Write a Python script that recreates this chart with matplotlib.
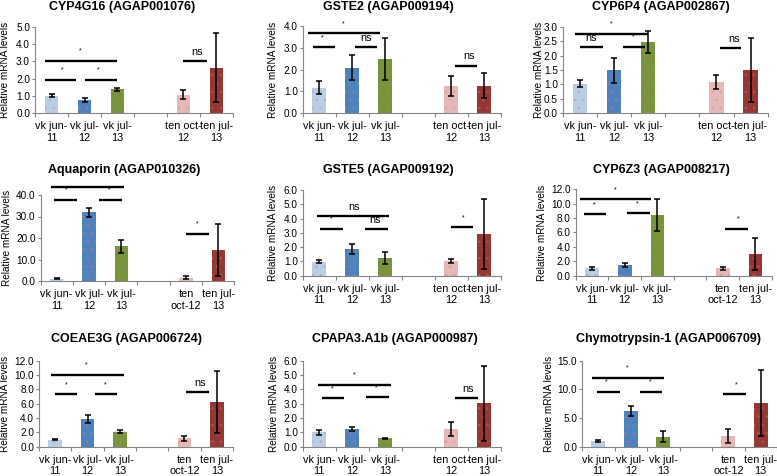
import numpy as np
import matplotlib
matplotlib.use("Agg")
import matplotlib.pyplot as plt
from matplotlib.colors import to_rgb

plt.rcParams['font.family'] = ['Liberation Sans', 'DejaVu Sans']
plt.rcParams['hatch.linewidth'] = 0.5

# ---------------- data ----------------
titles = ["CYP4G16 (AGAP001076)", "GSTE2 (AGAP009194)", "CYP6P4 (AGAP002867)",
          "Aquaporin (AGAP010326)", "GSTE5 (AGAP009192)", "CYP6Z3 (AGAP008217)",
          "COEAE3G (AGAP006724)", "CPAPA3.A1b (AGAP000987)", "Chymotrypsin-1 (AGAP006709)"]

labels_a = ["vk jun-\n11", "vk jul-\n12", "vk jul-\n13", "", "ten oct-\n12", "ten jul-\n13"]
labels_b = ["vk jun-\n11", "vk jul-\n12", "vk jul-\n13", "", "ten\noct-12", "ten jul-\n13"]
panel_labels = [labels_a, labels_a, labels_a, labels_b, labels_a, labels_b, labels_b, labels_a, labels_b]

y_max = [5.0, 4.0, 3.0, 40.0, 6.0, 12.0, 12.0, 6.0, 15.0]
y_step = [1.0, 1.0, 0.5, 10.0, 1.0, 2.0, 2.0, 1.0, 5.0]

nan = np.nan
cyp4g16 = [1.0, 0.75, 1.38, nan, 1.07, 2.63]
cyp4g16_err = [0.09, 0.10, 0.10, nan, 0.28, 2.0]
gste2 = [1.17, 2.09, 2.48, nan, 1.23, 1.26]
gste2_err = [0.31, 0.59, 0.95, nan, 0.46, 0.56]
cyp6p4 = [1.02, 1.49, 2.48, nan, 1.08, 1.50]
cyp6p4_err = [0.13, 0.44, 0.37, nan, 0.25, 1.13]
aquaporin = [1.0, 31.9, 16.1, nan, 1.55, 14.6]
aquaporin_err = [0.3, 2.2, 3.1, nan, 0.8, 12.1]
gste5 = [0.98, 1.87, 1.21, nan, 1.03, 2.92]
gste5_err = [0.10, 0.32, 0.42, nan, 0.15, 2.43]
cyp6z3 = [1.02, 1.48, 8.4, nan, 1.02, 3.06]
cyp6z3_err = [0.23, 0.22, 2.2, nan, 0.20, 2.2]
coeae3g = [1.0, 3.86, 2.09, nan, 1.16, 6.2]
coeae3g_err = [0.12, 0.55, 0.20, nan, 0.40, 4.3]
cpapa3 = [1.0, 1.26, 0.60, nan, 1.23, 3.02]
cpapa3_err = [0.15, 0.13, 0.04, nan, 0.47, 2.6]
chymo = [0.99, 6.22, 1.74, nan, 1.86, 7.6]
chymo_err = [0.2, 0.8, 0.95, nan, 1.2, 5.8]

values = [cyp4g16, gste2, cyp6p4, aquaporin, gste5, cyp6z3, coeae3g, cpapa3, chymo]
errors = [cyp4g16_err, gste2_err, cyp6p4_err, aquaporin_err, gste5_err, cyp6z3_err,
          coeae3g_err, cpapa3_err, chymo_err]

# significance brackets: (x start, x end, y, label, label x)
sig = [
    [(-0.20, 1.99, 3.02, '*', 0.88), (-0.20, 0.74, 1.94, '*', 0.34),
     (1.01, 1.99, 1.94, '*', 1.42), (3.99, 4.70, 3.02, 'ns', 4.40)],
    [(-0.35, 1.84, 3.66, '*', 0.73), (-0.20, 0.48, 3.02, '*', 0.08),
     (1.09, 1.76, 3.02, 'ns', 1.42), (4.12, 4.79, 2.18, 'ns', 4.55)],
    [(-0.13, 1.99, 2.76, '*', 0.92), (0.02, 0.68, 2.30, 'ns', 0.33),
     (1.27, 1.92, 2.30, '*', 1.56), (4.09, 4.73, 2.27, 'ns', 4.50)],
    [(-0.17, 2.09, 43.6, '*', 0.95), (-0.07, 0.64, 37.7, '*', 0.29),
     (1.31, 2.01, 37.7, '*', 1.63), (4.00, 4.72, 21.9, '*', 4.35)],
    [(-0.06, 2.13, 4.20, 'ns', 1.06), (0.03, 0.71, 3.27, '*', 0.36),
     (1.39, 2.07, 3.27, 'ns', 1.69), (3.99, 4.67, 3.39, '*', 4.35)],
    [(-0.38, 1.82, 10.6, '*', 0.71), (-0.24, 0.44, 8.52, '*', 0.08),
     (1.08, 1.77, 8.66, '*', 1.39), (4.06, 4.76, 6.48, '*', 4.47)],
    [(-0.13, 2.13, 10.0, '*', 0.95), (-0.01, 0.68, 7.30, '*', 0.35),
     (1.23, 1.92, 7.30, '*', 1.55), (4.06, 4.76, 7.67, 'ns', 4.49)],
    [(-0.05, 2.17, 4.30, '*', 1.07), (0.08, 0.76, 3.37, '*', 0.41),
     (1.42, 2.10, 3.44, '*', 1.72), (4.12, 4.80, 3.42, 'ns', 4.52)],
    [(-0.20, 2.03, 12.03, '*', 0.90), (-0.05, 0.67, 9.60, '*', 0.26),
     (1.28, 1.97, 9.60, '*', 1.59), (3.85, 4.55, 9.13, '*', 4.24)],
]

# ---------------- layout / style ----------------
W, H = 777, 476
rects = [  # left, top, right, bottom in pixels
    (35, 27, 233, 113), (302.7, 26, 500.7, 113), (562.7, 27, 767.7, 113),
    (40.5, 195, 234.5, 281), (302.7, 190, 500.7, 275.7), (575.7, 189.3, 771.7, 275.7),
    (39, 360.7, 233, 446.7), (302.7, 360.7, 500.7, 446.7), (582, 360.7, 777, 446.7),
]
title_pos = [(121.7, 6.7), (388, 6.7), (661, 6.7), (124, 170), (388.3, 169.5), (661.5, 170),
             (126.3, 339), (395.3, 339.3), (669, 339)]
ylabel_x = [4.7, 273.5, 539.5, 6.7, 273.3, 542, 5, 274, 548.7]

bar_colors = ['#b9cde5', '#4f81bd', '#77933c', '#ffffff', '#e6b9b8', '#953735']
axis_gray = '#868686'


def blend(c1, c2, t):
    a, b = np.array(to_rgb(c1)), np.array(to_rgb(c2))
    return tuple(a * (1 - t) + b * t)


fig = plt.figure(figsize=(W / 100, H / 100), dpi=100)

for i in range(9):
    l, t, r, b = rects[i]
    ax = fig.add_axes([l / W, 1 - b / H, (r - l) / W, (b - t) / H])
    x = np.arange(6)
    vals = values[i]
    errs = errors[i]
    for j in range(6):
        if np.isnan(vals[j]):
            continue
        ax.bar(x[j], vals[j], width=0.42, color=bar_colors[j],
               edgecolor=blend(bar_colors[j], '#c88080', 0.45), linewidth=0, hatch='..')
    ax.errorbar(x, vals, yerr=errs, fmt='none', ecolor='black', elinewidth=1.1,
                capsize=2.2, capthick=1.1, zorder=3)
    ax.set_xlim(-0.5, 5.5)
    ax.set_ylim(0, y_max[i])
    yt = np.arange(0, y_max[i] + 1e-9, y_step[i])
    ax.set_yticks(yt)
    ax.set_yticklabels([f"{v:.1f}" for v in yt])
    ax.set_xticks(x)
    ax.set_xticklabels(panel_labels[i], linespacing=1.15)
    ax.set_xticks(np.arange(-0.5, 6.0, 1.0), minor=True)
    ax.tick_params(axis='x', which='major', length=0, pad=6, labelsize=7.8)
    ax.tick_params(axis='x', which='minor', length=3, color=axis_gray, width=0.8)
    ax.tick_params(axis='y', length=2, color=axis_gray, width=0.8, labelsize=7.2, pad=1.5)
    for s in ['top', 'right']:
        ax.spines[s].set_visible(False)
    for s in ['left', 'bottom']:
        ax.spines[s].set_color(axis_gray)
        ax.spines[s].set_linewidth(0.8)
    ax.patch.set_visible(False)

    for (x0, x1, yy, lab, xl) in sig[i]:
        ax.plot([x0, x1], [yy, yy], color='black', lw=1.7, solid_capstyle='butt',
                clip_on=False, zorder=4)
        if lab == '*':
            ax.annotate(lab, (xl, yy), xytext=(0, 4.5), textcoords='offset points',
                        ha='center', va='bottom', fontsize=5, clip_on=False)
        else:
            ax.annotate(lab, (xl, yy), xytext=(0, 3), textcoords='offset points',
                        ha='center', va='bottom', fontsize=7.8, clip_on=False)

    tx, ty = title_pos[i]
    fig.text(tx / W, 1 - ty / H, titles[i], ha='center', va='center',
             fontsize=9, fontweight='bold')
    fig.text(ylabel_x[i] / W, 1 - ((t + b) / 2) / H, "Relative mRNA levels",
             rotation=90, ha='center', va='center', fontsize=7.2)

fig.savefig("out.png", dpi=100)
